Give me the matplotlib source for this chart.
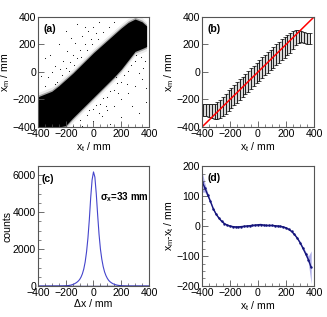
import numpy as np
import matplotlib
matplotlib.use("Agg")
import matplotlib.pyplot as plt
from matplotlib.ticker import MultipleLocator

plt.rcParams['font.family'] = ['Liberation Sans', 'DejaVu Sans']
plt.rcParams['mathtext.fontset'] = 'custom'
plt.rcParams['mathtext.rm'] = 'Liberation Sans'
plt.rcParams['mathtext.it'] = 'Liberation Sans:italic'
plt.rcParams['mathtext.bf'] = 'Liberation Sans:bold'

# (a) scatter band: edges of the dense band + a few stray hits
band_x = [-400, -350, -300, -250, -200, -150, -100, -50, 0, 50, 100, 150, 200, 250, 300, 350, 383]
band_top = [-180, -160, -140, -100, -55, -10, 40, 90, 140, 185, 230, 275, 320, 360, 385, 365, 335]
band_bot = [-400, -400, -400, -400, -390, -335, -285, -235, -185, -135, -85, -35, 20, 85, 150, 170, 185]
stray_x = [-350, -330, -300, -280, -260, -240, -220, -200, -190, -170, -150, -130, -120, -100, -80,
           -60, -40, -20, 0, 20, 40, -250, -310, -350, -200, -120, -380, -280, -230, -180, -140,
           -90, -50, -10, 30, 70, 110, 150, -160, -60,
           -150, -100, -50, 0, 50, 100, 150, 200, 250, 300, 340, 370, -80, 0, 60, 100, 150, 200,
           250, 300, 350, 380, 120, 200, 280, 330, 360, 220, 170, 120, 70, 20, -30, 270, 310, 180,
           240, 90, 40, 380, 330, 160]
stray_y = [-100, -40, 0, 40, -70, 20, 80, 30, 150, 70, 120, 210, 100, 160, 260, 200, 300, 240,
           330, 280, 360, 200, 120, 100, 300, 350, -30, -90, -20, 10, 50, 110, 160, 200, 240, 290,
           330, 360, 250, 330,
           -390, -350, -310, -270, -230, -180, -130, -70, 10, 80, 110, 80, -395, -355, -320, -280,
           -250, -200, -150, -100, -50, -120, -380, -330, -250, -10, 30, -20, -80, -140, -190,
           -240, -275, 50, 120, -150, -90, -250, -300, -220, -300, -40]

# (b) profile of x_m versus x_t
prof_x = [-390, -370, -350, -330, -310, -290, -270, -250, -230, -210, -190, -170, -150, -130,
          -110, -90, -70, -50, -30, -10, 10, 30, 50, 70, 90, 110, 130, 150, 170, 190, 210, 230,
          250, 270, 290, 310, 330, 350, 370]
prof_mean = [-275, -278, -282, -285, -285, -280, -268, -252, -232, -208, -188, -168, -148, -128,
             -108, -88, -68, -48, -28, -8, 12, 32, 50, 70, 88, 107, 126, 144, 162, 180, 196, 213,
             230, 248, 258, 258, 250, 245, 242]
prof_err = [45, 45, 47, 50, 55, 60, 65, 70, 75, 75, 75, 75, 75, 75, 75, 75, 75, 75, 75, 75, 75,
            75, 75, 75, 75, 75, 75, 75, 75, 75, 75, 72, 65, 55, 48, 42, 40, 40, 40]

# (c) residual distribution
dx = [-400] + list(range(-250, 251, 10)) + [400]
counts = [0, 2, 3, 4, 6, 9, 12, 18, 26, 38, 55, 80, 110, 150, 200, 265, 350, 480, 660, 920, 1300,
          1850, 2600, 3600, 4800, 5750, 6180, 5900, 5000, 3850, 2800, 2000, 1450, 1050, 760, 560,
          410, 300, 225, 170, 125, 92, 68, 48, 34, 24, 16, 11, 7, 5, 3, 2, 0]

# (d) mean deviation x_m - x_t
dev_x = [-400, -380, -360, -340, -320, -300, -280, -260, -240, -220, -200, -180, -160, -140,
         -120, -100, -80, -60, -40, -20, 0, 20, 40, 60, 80, 100, 120, 140, 160, 180, 200, 220,
         240, 260, 280, 300, 320, 340, 360, 380]
dev = [148, 128, 105, 82, 58, 40, 27, 16, 8, 3, 0, -2, -3, -3, -2, -1, 0, 1, 2, 3, 4, 5, 3, 2,
       2, 2, 1, 0, -1, -3, -6, -11, -18, -28, -40, -55, -73, -92, -112, -138]
dev_err = [35, 15, 8, 6, 5, 4, 4, 3, 3, 3, 3, 3, 3, 3, 3, 3, 3, 3, 3, 3, 3, 3, 3, 3, 3, 3, 3,
           3, 3, 3, 3, 3, 3, 4, 4, 5, 6, 8, 12, 55]

fig = plt.figure(figsize=(3.27, 3.17), dpi=100)
ax_a = fig.add_axes([0.1162, 0.5994, 0.3394, 0.347])
ax_b = fig.add_axes([0.6177, 0.5994, 0.3425, 0.347])
ax_c = fig.add_axes([0.1162, 0.0978, 0.3394, 0.3785])
ax_d = fig.add_axes([0.6177, 0.0978, 0.3425, 0.3785])

fs = 7.6
for ax in (ax_a, ax_b, ax_c, ax_d):
    for s in ax.spines.values():
        s.set_color('#555555')
        s.set_linewidth(0.8)
    ax.tick_params(which='both', direction='in', colors='#555555', labelcolor='black',
                   labelsize=fs, pad=1.5, top=False, right=False)
    ax.tick_params(which='major', length=4, width=0.6)
    ax.tick_params(which='minor', length=2, width=0.5)
    ax.set_xlim(-400, 400)
    ax.xaxis.set_major_locator(MultipleLocator(200))
    ax.xaxis.set_minor_locator(MultipleLocator(50))

# (a)
bt = np.array(band_top)
bb = np.array(band_bot)
ax_a.fill_between(band_x, bb - 30, bt + 30, color='black', alpha=0.08, lw=0)
ax_a.fill_between(band_x, bb - 12, bt + 12, color='black', alpha=0.3, lw=0)
ax_a.fill_between(band_x, bb, bt, color='black', lw=0)
ax_a.scatter(stray_x, stray_y, s=0.6, color='black', lw=0)
ax_a.set_ylim(-400, 400)
ax_a.set_ylabel('x$_\\mathrm{m}$ / mm', fontsize=fs, labelpad=0)
ax_a.set_xlabel('x$_\\mathrm{t}$ / mm', fontsize=fs, labelpad=0.5)
ax_a.text(-360, 290, '(a)', fontsize=fs, fontweight='bold')

# (b)
pm = np.array(prof_mean)
pe = np.array(prof_err)
ax_b.fill_between(prof_x, pm - pe, pm + pe, color='#d8d8d8', lw=0)
ax_b.errorbar(prof_x, prof_mean, yerr=prof_err, fmt='none', ecolor='black', elinewidth=0.6,
              capsize=1.2, capthick=0.5)
ax_b.plot([-400, 400], [-400, 400], color='red', lw=1.1)
ax_b.set_ylim(-400, 400)
ax_b.set_ylabel('x$_\\mathrm{m}$ / mm', fontsize=fs, labelpad=0)
ax_b.set_xlabel('x$_\\mathrm{t}$ / mm', fontsize=fs, labelpad=0.5)
ax_b.text(-360, 290, '(b)', fontsize=fs, fontweight='bold')

# (c)
ax_c.plot(dx, counts, color='#4444cc', lw=0.8)
ax_c.axhline(0, color='#000066', lw=1.0)
ax_c.set_ylim(0, 6500)
ax_c.yaxis.set_major_locator(MultipleLocator(2000))
ax_c.yaxis.set_minor_locator(MultipleLocator(500))
ax_c.set_ylabel('counts', fontsize=fs, labelpad=0)
ax_c.set_xlabel('Δx / mm', fontsize=fs, labelpad=0.5)
ax_c.text(-375, 5650, '(c)', fontsize=fs, fontweight='bold')
ax_c.text(50, 4830, 'σ$_\\mathbf{x}$=33 mm', fontsize=7, fontweight='bold', va='center')

# (d)
dv = np.array(dev)
de = np.array(dev_err)
ax_d.fill_between(dev_x, dv - de, dv + de, color='#8c8ce0', alpha=0.7, lw=0)
ax_d.plot(dev_x, dev, color='#14147a', lw=1.0, marker='.', ms=1.5)
ax_d.set_ylim(-200, 200)
ax_d.yaxis.set_major_locator(MultipleLocator(100))
ax_d.yaxis.set_minor_locator(MultipleLocator(25))
ax_d.set_ylabel('x$_\\mathrm{m}$-x$_\\mathrm{t}$ / mm', fontsize=fs, labelpad=0)
ax_d.set_xlabel('x$_\\mathrm{t}$ / mm', fontsize=fs, labelpad=0.5)
ax_d.text(-360, 150, '(d)', fontsize=fs, fontweight='bold')

fig.savefig('out.png', dpi=100)
